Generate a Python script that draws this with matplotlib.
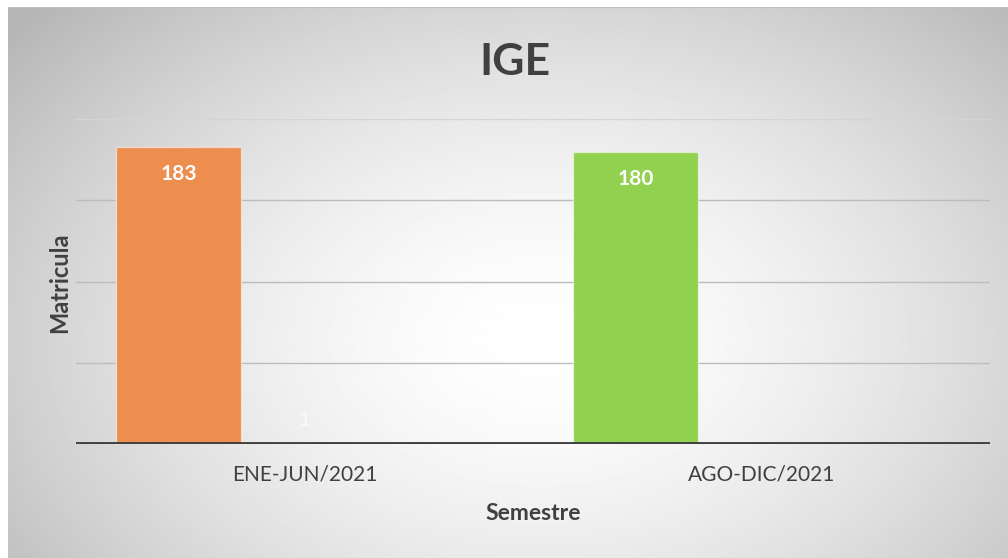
import numpy as np
import matplotlib
matplotlib.use("Agg")
import matplotlib.pyplot as plt

# Data
categories = ["ENE-JUN/2021", "AGO-DIC/2021"]
matricula = [183, 180]
bar_colors = ["#ED8D4E", "#92D050"]
second_series = [1, None]
y_max = 200
grid_values = [50, 100, 150, 200]

W, H, DPI = 1008, 558, 100
fig = plt.figure(figsize=(W / DPI, H / DPI), dpi=DPI)
fig.patch.set_facecolor("white")

# Radial grey-to-white chart background
bg = fig.add_axes([8 / W, 0, 1 - 8 / W, 1 - 7 / H], zorder=0)
ny, nx = 280, 500
xs = np.linspace(8, W, nx)
ys = np.linspace(7, H, ny)
X, Y = np.meshgrid(xs, ys)
cx, cy = 540, 340
r = np.sqrt(((X - cx) / 600.0) ** 2 + ((Y - cy) / 420.0) ** 2)
val = 1.0 - 0.23 * np.clip(r, 0, 1.15) ** 1.6
bg.imshow(val, cmap="gray", vmin=0, vmax=1, aspect="auto",
          extent=[0, 1, 0, 1], interpolation="bilinear")
bg.axhline(1, color="#bdbdbd", lw=1.5)
bg.set_axis_off()

# Plot area
ax = fig.add_axes([76 / W, (H - 444) / H, (990 - 76) / W, (444 - 119) / H], zorder=1)
ax.patch.set_alpha(0)
x = np.arange(len(categories))
bw = 0.273
slot = 0.275

ax.bar(x - slot, matricula, width=bw, color=bar_colors,
       edgecolor=(1, 1, 1, 0.5), linewidth=1.0, zorder=3)
for xi, v in zip(x - slot, matricula):
    ax.annotate(str(v), (xi, v), xytext=(0, -20), textcoords="offset points",
                ha="center", va="center", color="white", fontsize=15,
                fontweight="bold", family="Lato", zorder=4)

for xi, v in zip(x, second_series):
    if v is None:
        continue
    ax.bar(xi, v, width=bw, color="white", zorder=3)
    ax.annotate(str(v), (xi, v), xytext=(0, 16), textcoords="offset points",
                ha="center", va="center", color="white", fontsize=15,
                fontweight="bold", family="Lato", alpha=0.6, zorder=4)

for g in grid_values:
    ax.axhline(g, color="#d4d4d4" if g == y_max else "#bcbcbc", lw=1.0, zorder=1)
ax.axhline(0, color="#404040", lw=2.8, zorder=5)

ax.set_xlim(-0.5, 1.5)
ax.set_ylim(0, y_max)
ax.set_yticks([])
ax.set_xticks(x)
ax.set_xticklabels(categories, fontsize=15, color="#404040", family="Lato")
ax.tick_params(axis="x", length=0, pad=15)
for s in ax.spines.values():
    s.set_visible(False)

fig.text(515 / W, 1 - 62 / H, "IGE", ha="center", va="center", fontsize=32,
         fontweight="bold", color="#404040", family="Lato")
fig.text(533 / W, 1 - 513 / H, "Semestre", ha="center", va="center", fontsize=16.5,
         fontweight="bold", color="#404040", family="Lato")
fig.text(60 / W, 1 - 283 / H, "Matricula", ha="center", va="center", fontsize=17,
         fontweight="bold", color="#404040", family="Lato", rotation=90)

fig.savefig("out.png", dpi=DPI)
